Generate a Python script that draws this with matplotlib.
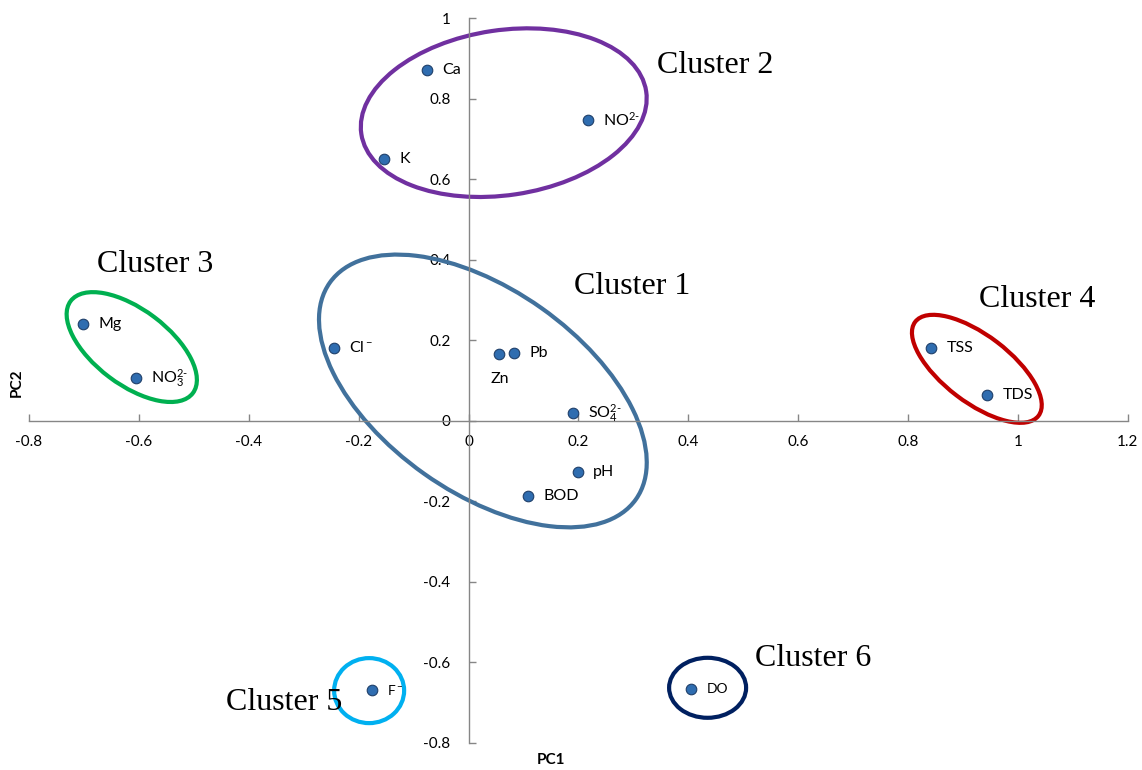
import matplotlib
matplotlib.use("Agg")
import matplotlib.pyplot as plt
from matplotlib.patches import Ellipse
from matplotlib.transforms import ScaledTranslation

plt.rcParams["font.family"] = ["Lato", "DejaVu Sans"]
plt.rcParams["mathtext.fontset"] = "custom"
plt.rcParams["mathtext.rm"] = "Lato"
plt.rcParams["mathtext.it"] = "Lato"

# PCA loadings
names = ["Ca", "NO$^{2\\text{-}}$", "K", "Mg", "NO$_3^{2\\text{-}}$", "Cl$^-$", "Zn", "Pb",
         "SO$_4^{2\\text{-}}$", "pH", "BOD", "TSS", "TDS", "F$^-$", "DO"]
pc1 = [-0.076, 0.217, -0.154, -0.702, -0.605, -0.245, 0.055, 0.083,
       0.190, 0.199, 0.108, 0.842, 0.944, -0.176, 0.405]
pc2 = [0.872, 0.747, 0.650, 0.240, 0.106, 0.181, 0.166, 0.168,
       0.019, -0.127, -0.187, 0.181, 0.064, -0.669, -0.666]

# cluster outlines: centre (data), width/height (inches), angle (deg)
clusters = ["Cluster 1", "Cluster 2", "Cluster 3", "Cluster 4", "Cluster 5", "Cluster 6"]
cl_centre = [(0.026, 0.074), (0.064, 0.765), (-0.613, 0.183), (0.925, 0.129),
             (-0.181, -0.670), (0.435, -0.663)]
cl_size = [(3.75, 2.03), (2.88, 1.65), (1.53, 0.75), (1.55, 0.67), (0.70, 0.65), (0.77, 0.60)]
cl_angle = [-35.3, 8.5, -37.0, -37.3, 0, 0]
cl_color = ["#41719C", "#7030A0", "#00B050", "#C00000", "#00B0F0", "#002060"]
cl_title_pos = [(0.192, 0.314), (0.343, 0.863), (-0.676, 0.370), (0.929, 0.283),
                (-0.4415, -0.718), (0.521, -0.609)]

fig = plt.figure(figsize=(11.42, 7.70), dpi=100)
ax = fig.add_axes([0.0254, 0.0351, 0.9623, 0.9415])
ax.set_xlim(-0.8, 1.2)
ax.set_ylim(-0.8, 1.0)

for s in ["top", "right"]:
    ax.spines[s].set_visible(False)
ax.spines["left"].set_position(("data", 0))
ax.spines["bottom"].set_position(("data", 0))
for s in ["left", "bottom"]:
    ax.spines[s].set_color("#868686")
    ax.spines[s].set_linewidth(1.0)

xt = [round(-0.8 + 0.2 * i, 1) for i in range(11)]
yt = [round(-0.8 + 0.2 * i, 1) for i in range(10)]
ax.set_xticks(xt)
ax.set_xticklabels([f"{v:g}" for v in xt])
ax.set_yticks(yt)
ax.set_yticklabels([f"{v:g}" for v in yt])
ax.tick_params(axis="both", direction="in", length=5, width=1, color="#868686",
               labelsize=11)
ax.tick_params(axis="x", pad=10)
ax.tick_params(axis="y", pad=13)

ax.scatter(pc1, pc2, s=58, color="#2F6DB0", edgecolor="#1F3F6A", linewidth=0.8, zorder=3)

small = {"F$^-$", "DO"}
for n, x, y in zip(names, pc1, pc2):
    if n == "Zn":
        ax.annotate(n, (x, y), xytext=(1, -18), textcoords="offset points",
                    ha="center", va="center", fontsize=11.5)
    else:
        ax.annotate(n, (x, y), xytext=(11, 0), textcoords="offset points",
                    ha="left", va="center", fontsize=10 if n in small else 11.5)

for (cx, cy), (w, h), ang, col in zip(cl_centre, cl_size, cl_angle, cl_color):
    tr = fig.dpi_scale_trans + ScaledTranslation(cx, cy, ax.transData)
    ax.add_patch(Ellipse((0, 0), w, h, angle=ang, fill=False, edgecolor=col,
                         linewidth=3.0, transform=tr, zorder=2))

for t, (tx, ty) in zip(clusters, cl_title_pos):
    ax.text(tx, ty, t, fontsize=23, family="Liberation Serif", ha="left", va="baseline")

fig.text(551 / 1142, 1 - 760 / 770, "PC1", fontsize=11, fontweight="bold",
         ha="center", va="center")
fig.text(17 / 1142, 1 - 383 / 770, "PC2", fontsize=11, fontweight="bold",
         ha="center", va="center", rotation=90)

fig.savefig("out.png", dpi=100)
